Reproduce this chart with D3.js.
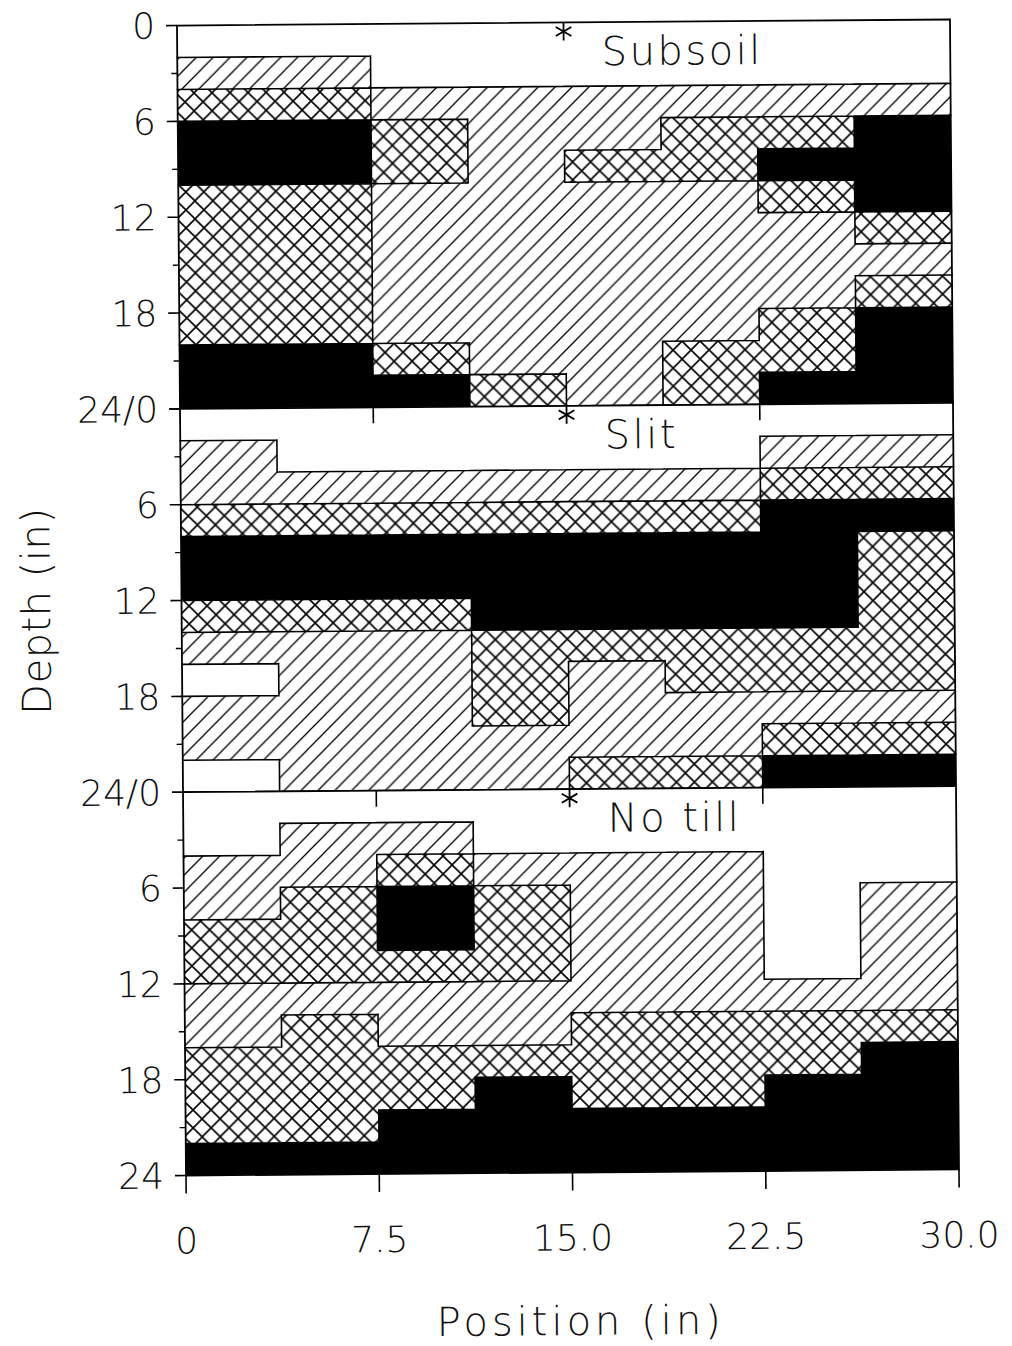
<!DOCTYPE html>
<html>
<head>
<meta charset="utf-8">
<script src="https://cdn.jsdelivr.net/npm/d3@7"></script>
<style>
html, body { margin: 0; padding: 0; background: #fff; }
svg { display: block; }
text { font-family: "DejaVu Sans", Lato, sans-serif; font-weight: 300; fill: #111; }
</style>
</head>
<body>
<svg id="chart"></svg>
<script>
// column edges across the row (in) and the 2-in depth layers
var colEdges = [0, 3.75, 7.5, 11.25, 15, 18.75, 22.5, 26.25, 30];
var layerEdges = [0, 2, 4, 6, 8, 10, 12, 14, 16, 18, 20, 22, 24];

// one string per column, one letter per 2-in layer from the surface down
// W = open, H = hatched, X = cross-hatched, B = solid
var subsoil = [
    'WHXBBXXXXXBB',
    'WHXBBXXXXXBB',
    'WWHXXHHHHHXB',
    'WWHHHHHHHHHX',
    'WWHHXHHHHHHH',
    'WWHXXHHHHHXX',
    'WWHXBXHHHXXB',
    'WWHBBBXHXBBB'
];
var slit = [
    'WHHXBBXHWHHW',
    'WWHXBBXHHHHH',
    'WWHXBBXHHHHH',
    'WWHXBBBXXXHH',
    'WWHXBBBXHHHX',
    'WWHXBBBXXHHX',
    'WHXBBBBXXHXB',
    'WHXBXXXXXHXB'
];
var noTill = [
    'WWHHXXHHXXXB',
    'WHHXXXHXXXXB',
    'WHXBBXHHXXBB',
    'WWHXXXHHXBBB',
    'WWHHHHHXXXBB',
    'WWHHHHHXXXBB',
    'WWWWWWHXXBBB',
    'WWWHHHHXBBBB'
];

var panelNames = ['Subsoil', 'Slit', 'No till'];
var depthTicks = [0, 6, 12, 18, 24];
var depthMinorTicks = [3, 9, 15, 21];
var depthLabels = [
    ['0', '6', '12', '18', '24/0'],
    ['', '6', '12', '18', '24/0'],
    ['', '6', '12', '18', '24']
];
var posTicks = [0, 7.5, 15, 22.5, 30];
var posLabels = ['0', '7.5', '15.0', '22.5', '30.0'];
var panelTopTicks = [7.5, 22.5];
var markAt = 15;

var SVG_SIZE = { width: 1012, height: 1346 };
var PLOT = { left: 181.5, right: 954.5, top: 22.5, panelHeight: 1150 / 3 };

var svg = d3.select('#chart')
    .attr('width', SVG_SIZE.width).attr('height', SVG_SIZE.height);

// fill patterns
var defs = svg.append('defs');
var hs = 17;
var hatch = defs.append('pattern').attr('id', 'hatch')
    .attr('patternUnits', 'userSpaceOnUse').attr('width', hs).attr('height', hs);
hatch.append('rect').attr('width', hs).attr('height', hs).attr('fill', '#fff');
hatch.append('path')
    .attr('d', 'M-3,3 L3,-3 M0,' + hs + ' L' + hs + ',0 M' + (hs - 3) + ',' + (hs + 3) + ' L' + (hs + 3) + ',' + (hs - 3))
    .attr('stroke', '#000').attr('stroke-width', 1.3);

var cs = 18;
var cross = defs.append('pattern').attr('id', 'cross')
    .attr('patternUnits', 'userSpaceOnUse').attr('width', cs).attr('height', cs);
cross.append('rect').attr('width', cs).attr('height', cs).attr('fill', '#fff');
cross.append('path')
    .attr('d', 'M-2,-2 L' + (cs + 2) + ',' + (cs + 2) + ' M' + (cs + 2) + ',-2 L-2,' + (cs + 2))
    .attr('stroke', '#000').attr('stroke-width', 1.6);

var fills = { W: '#fff', H: 'url(#hatch)', X: 'url(#cross)', B: '#000' };

// the scanned original sits slightly tilted
var g = svg.append('g').attr('transform', 'rotate(-0.45, 568, 598)');

var xScale = d3.scaleLinear().domain([0, 30]).range([PLOT.left, PLOT.right]);

[subsoil, slit, noTill].forEach(function (cols, p) {
    var top = PLOT.top + p * PLOT.panelHeight;
    var yScale = d3.scaleLinear().domain([0, 24]).range([top, top + PLOT.panelHeight]);

    // one path per fill type so touching cells merge without seams
    ['W', 'H', 'X', 'B'].forEach(function (type) {
        var d = '';
        cols.forEach(function (col, c) {
            for (var r = 0; r < col.length; r++) {
                if (col[r] !== type) continue;
                var x0 = xScale(colEdges[c]), x1 = xScale(colEdges[c + 1]);
                var y0 = yScale(layerEdges[r]), y1 = yScale(layerEdges[r + 1]);
                d += 'M' + x0 + ',' + y0 + 'H' + x1 + 'V' + y1 + 'H' + x0 + 'Z';
            }
        });
        if (d) g.append('path').attr('d', d).attr('fill', fills[type]);
    });

    // outlines wherever neighbouring layers differ
    var b = '';
    cols.forEach(function (col, c) {
        for (var r = 0; r < col.length; r++) {
            if (c < cols.length - 1 && cols[c + 1][r] !== col[r]) {
                b += 'M' + xScale(colEdges[c + 1]) + ',' + yScale(layerEdges[r]) + 'V' + yScale(layerEdges[r + 1]);
            }
            if (r < col.length - 1 && col[r + 1] !== col[r]) {
                b += 'M' + xScale(colEdges[c]) + ',' + yScale(layerEdges[r + 1]) + 'H' + xScale(colEdges[c + 1]);
            }
        }
    });
    g.append('path').attr('d', b).attr('fill', 'none')
        .attr('stroke', '#000').attr('stroke-width', 1.6).attr('stroke-linecap', 'square');

    // panel frame
    g.append('rect')
        .attr('x', xScale(0)).attr('y', yScale(0))
        .attr('width', xScale(30) - xScale(0)).attr('height', yScale(24) - yScale(0))
        .attr('fill', 'none').attr('stroke', '#000').attr('stroke-width', 1.8);

    // depth ticks and labels
    depthTicks.forEach(function (t) {
        g.append('line')
            .attr('x1', PLOT.left - 11).attr('x2', PLOT.left)
            .attr('y1', yScale(t)).attr('y2', yScale(t))
            .attr('stroke', '#000').attr('stroke-width', 1.6);
    });
    depthMinorTicks.forEach(function (t) {
        g.append('line')
            .attr('x1', PLOT.left - 6).attr('x2', PLOT.left)
            .attr('y1', yScale(t)).attr('y2', yScale(t))
            .attr('stroke', '#000').attr('stroke-width', 1.4);
    });
    depthLabels[p].forEach(function (lab, i) {
        if (!lab) return;
        g.append('text')
            .attr('x', PLOT.left - 22).attr('y', yScale(depthTicks[i]))
            .attr('dy', '0.36em')
            .attr('text-anchor', 'end')
            .attr('font-size', 36)
            .text(lab);
    });

    // ticks hanging from the top of the lower panels
    if (p > 0) {
        panelTopTicks.forEach(function (t) {
            g.append('line')
                .attr('x1', xScale(t)).attr('x2', xScale(t))
                .attr('y1', yScale(0)).attr('y2', yScale(0) + 16)
                .attr('stroke', '#000').attr('stroke-width', 1.6);
        });
    }

    // asterisk marking the centre position
    var cx = xScale(markAt), cy = yScale(0) + 9, ar = 9;
    var star = '';
    [90, 30, 150].forEach(function (a) {
        var dx = ar * Math.cos(a * Math.PI / 180), dy = ar * Math.sin(a * Math.PI / 180);
        star += 'M' + (cx + dx) + ',' + (cy - dy) + 'L' + (cx - dx) + ',' + (cy + dy);
    });
    g.append('path').attr('d', star).attr('stroke', '#000').attr('stroke-width', 1.8).attr('fill', 'none');

    // panel title
    g.append('text')
        .attr('x', xScale(markAt) + 38).attr('y', yScale(0) + 43)
        .attr('font-size', 40).attr('letter-spacing', 2.5)
        .text(panelNames[p]);
});

// position axis along the bottom
var bottom = PLOT.top + 3 * PLOT.panelHeight;
posTicks.forEach(function (t, i) {
    g.append('line')
        .attr('x1', xScale(t)).attr('x2', xScale(t))
        .attr('y1', bottom).attr('y2', bottom + 18)
        .attr('stroke', '#000').attr('stroke-width', 1.6);
    g.append('text')
        .attr('x', xScale(t)).attr('y', bottom + 78)
        .attr('text-anchor', 'middle')
        .attr('font-size', 36)
        .text(posLabels[i]);
});

// axis titles
g.append('text')
    .attr('x', 575).attr('y', 1335)
    .attr('text-anchor', 'middle')
    .attr('font-size', 40).attr('letter-spacing', 4)
    .text('Position (in)');
g.append('text')
    .attr('transform', 'translate(50, 607) rotate(-90)')
    .attr('text-anchor', 'middle')
    .attr('font-size', 40).attr('letter-spacing', 0.5)
    .text('Depth (in)');
</script>
</body>
</html>
